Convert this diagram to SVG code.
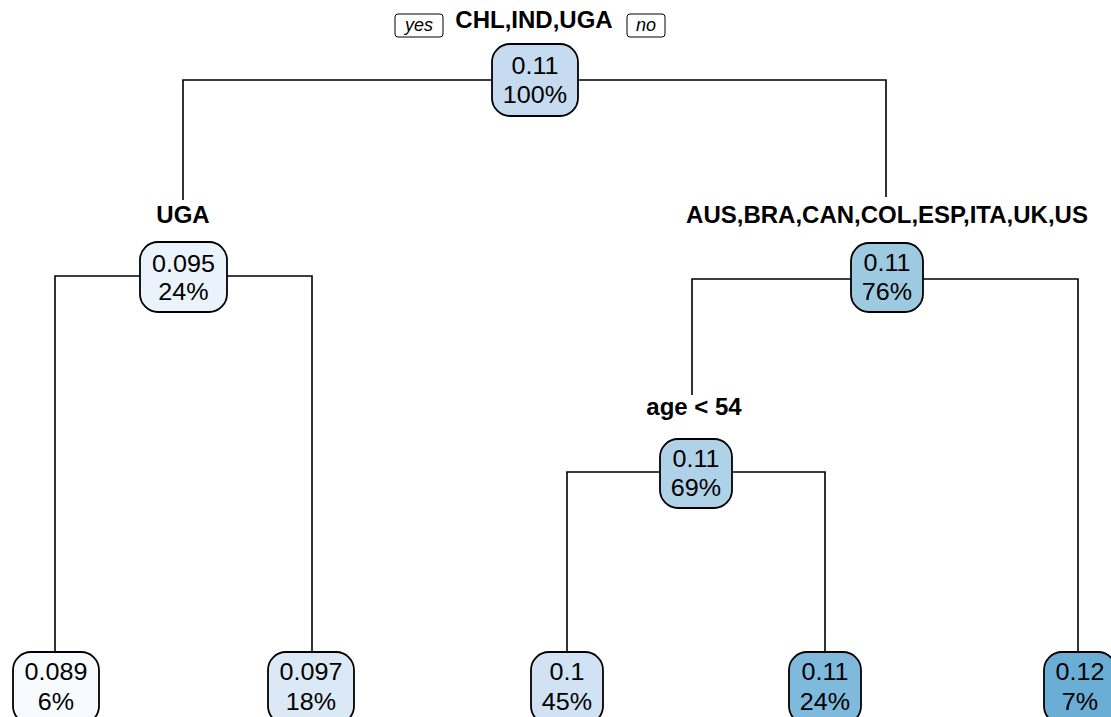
<svg xmlns="http://www.w3.org/2000/svg" width="1111" height="717" viewBox="0 0 1111 717">
<style>
.n{stroke:#000;stroke-width:1.8}
.t{font-family:"Liberation Sans",Arial,sans-serif;font-size:23.5px;text-anchor:middle;fill:#000}
.l{font-family:"Liberation Sans",Arial,sans-serif;font-size:24px;font-weight:bold;text-anchor:middle;fill:#000}
.yn{font-family:"Liberation Sans",Arial,sans-serif;font-size:18px;font-style:italic;text-anchor:middle;fill:#000}
.c{fill:none;stroke:#000;stroke-width:1.6}
</style>
<rect width="1111" height="717" fill="#fff"/>
<g id="connectors">
<path class="c" d="M183,200 V80 H886 V197"/>
<path class="c" d="M55,655 V276 H312 V655"/>
<path class="c" d="M692,395 V279 H1078 V655"/>
<path class="c" d="M567,655 V472 H825 V655"/>
</g>
<g id="labels">
<rect x="395" y="14" width="48" height="23" rx="3" fill="#fff" stroke="#000" stroke-width="1"/>
<text class="yn" x="419" y="31">yes</text>
<rect x="627" y="14" width="38" height="23" rx="3" fill="#fff" stroke="#000" stroke-width="1"/>
<text class="yn" x="646" y="31">no</text>
<text class="l" x="534" y="28">CHL,IND,UGA</text>
<text class="l" x="183" y="223">UGA</text>
<text class="l" x="887" y="223">AUS,BRA,CAN,COL,ESP,ITA,UK,US</text>
<text class="l" x="694" y="415">age &lt; 54</text>
</g>
<g id="n1"><rect class="n" x="492" y="44" width="86" height="72" rx="18" fill="#c6dbef"/><text class="t" transform="translate(535,74) scale(1.07,1)">0.11</text><text class="t" transform="translate(535,103) scale(1.07,1)">100%</text></g>
<g id="n2"><rect class="n" x="140" y="242" width="87" height="70" rx="18" fill="#eaf2fb"/><text class="t" transform="translate(183.5,272) scale(1.07,1)">0.095</text><text class="t" transform="translate(183.5,300) scale(1.07,1)">24%</text></g>
<g id="n3"><rect class="n" x="851" y="243" width="72" height="69" rx="18" fill="#9ecae1"/><text class="t" transform="translate(887,271) scale(1.07,1)">0.11</text><text class="t" transform="translate(887,300) scale(1.07,1)">76%</text></g>
<g id="n6"><rect class="n" x="660" y="439" width="72" height="69" rx="18" fill="#b0d2e8"/><text class="t" transform="translate(696,467) scale(1.07,1)">0.11</text><text class="t" transform="translate(696,496) scale(1.07,1)">69%</text></g>
<g id="n4"><rect class="n" x="13" y="652" width="86" height="72" rx="18" fill="#f7fbff"/><text class="t" transform="translate(56,680) scale(1.07,1)">0.089</text><text class="t" transform="translate(56,710) scale(1.07,1)">6%</text></g>
<g id="n5"><rect class="n" x="268" y="652" width="86" height="72" rx="18" fill="#dbe9f6"/><text class="t" transform="translate(311,680) scale(1.07,1)">0.097</text><text class="t" transform="translate(311,710) scale(1.07,1)">18%</text></g>
<g id="n12"><rect class="n" x="531" y="652" width="72" height="72" rx="18" fill="#d0e2f3"/><text class="t" transform="translate(567,680) scale(1.07,1)">0.1</text><text class="t" transform="translate(567,710) scale(1.07,1)">45%</text></g>
<g id="n13"><rect class="n" x="789" y="652" width="72" height="72" rx="18" fill="#7fb9dc"/><text class="t" transform="translate(825,680) scale(1.07,1)">0.11</text><text class="t" transform="translate(825,710) scale(1.07,1)">24%</text></g>
<g id="n7"><rect class="n" x="1044" y="652" width="72" height="72" rx="18" fill="#6aaed6"/><text class="t" transform="translate(1080,680) scale(1.07,1)">0.12</text><text class="t" transform="translate(1080,710) scale(1.07,1)">7%</text></g>
</svg>
